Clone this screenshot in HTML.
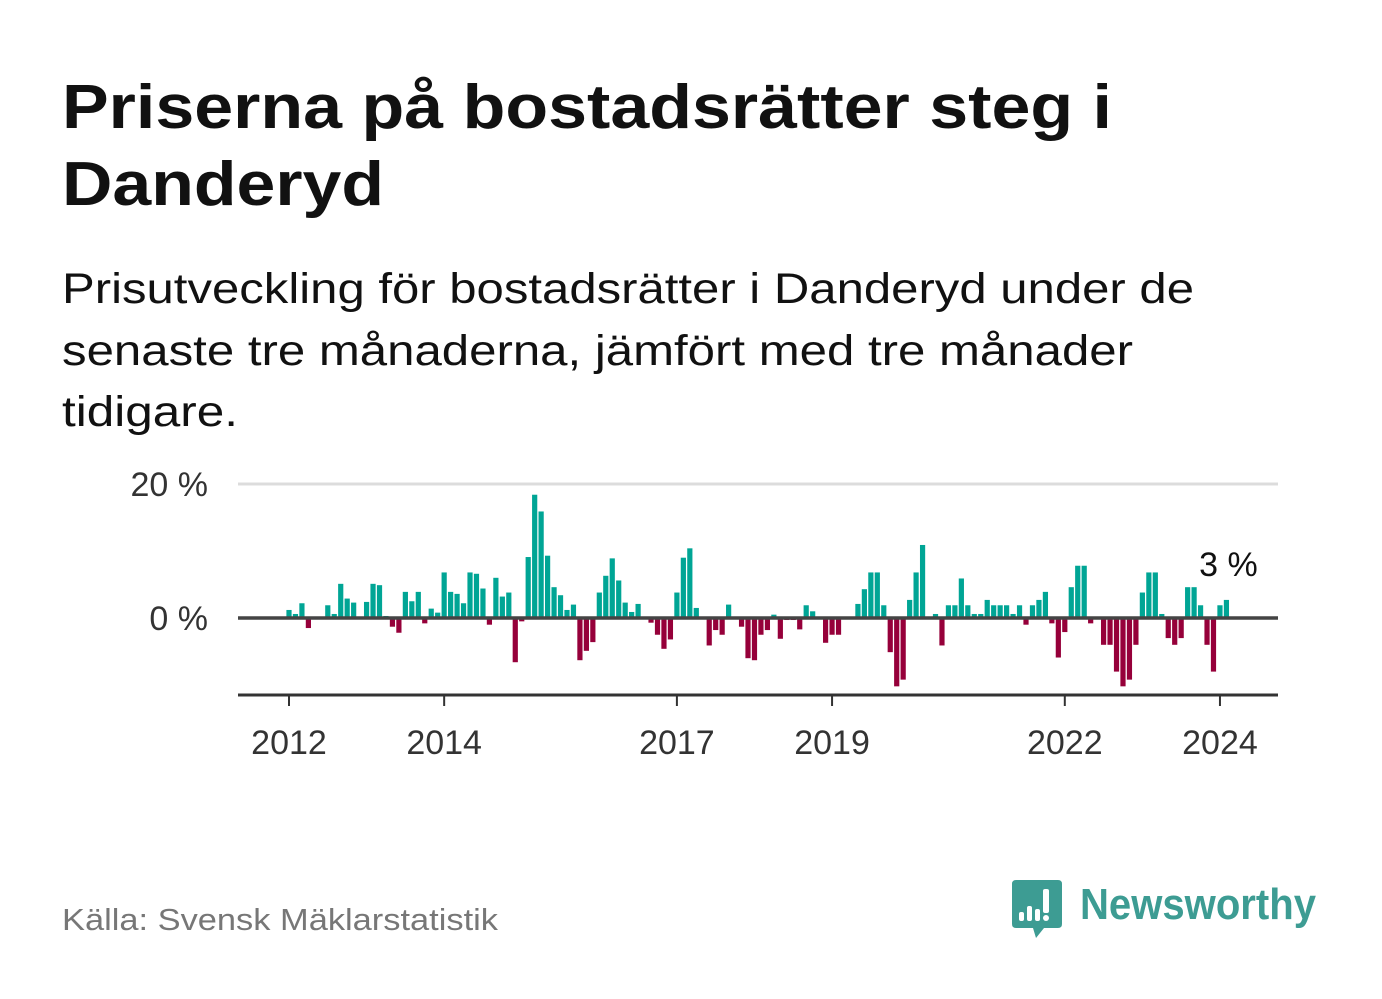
<!DOCTYPE html>
<html><head><meta charset="utf-8">
<style>
html,body{margin:0;padding:0;background:#fff;}
svg{display:block;font-family:"Liberation Sans","DejaVu Sans",sans-serif;}
</style></head>
<body>
<svg id="chart" width="1382" height="999" viewBox="0 0 1382 999" xmlns="http://www.w3.org/2000/svg">
  <rect width="1382" height="999" fill="#fff"/>
  <text x="62" y="128" font-size="62" font-weight="bold" fill="#111" textLength="1050" lengthAdjust="spacingAndGlyphs">Priserna på bostadsrätter steg i</text>
  <text x="62" y="205" font-size="62" font-weight="bold" fill="#111" textLength="322" lengthAdjust="spacingAndGlyphs">Danderyd</text>
  <text x="62" y="303" font-size="43" fill="#111" textLength="1132" lengthAdjust="spacingAndGlyphs">Prisutveckling för bostadsrätter i Danderyd under de</text>
  <text x="62" y="365" font-size="43" fill="#111" textLength="1071" lengthAdjust="spacingAndGlyphs">senaste tre månaderna, jämfört med tre månader</text>
  <text x="62" y="426" font-size="43" fill="#111" textLength="176" lengthAdjust="spacingAndGlyphs">tidigare.</text>
  <g id="plot"></g>
  <text x="62" y="930" font-size="31" fill="#777" textLength="436" lengthAdjust="spacingAndGlyphs">Källa: Svensk Mäklarstatistik</text>
  <g>
    <path d="M1016 880 H1058 Q1062 880 1062 884 V924 Q1062 928 1058 928 H1044 L1036 938 L1033 928 H1016 Q1012 928 1012 924 V884 Q1012 880 1016 880 Z" fill="#3d9c93"/>
    <rect x="1019" y="912" width="5" height="9" rx="2" fill="#fff"/>
    <rect x="1027" y="906" width="5" height="15" rx="2" fill="#fff"/>
    <rect x="1035" y="909" width="5" height="12" rx="2" fill="#fff"/>
    <rect x="1043" y="889" width="6" height="24" rx="2" fill="#fff"/>
    <circle cx="1046" cy="918" r="3" fill="#fff"/>
    <text x="1080" y="919" font-size="44" font-weight="bold" fill="#3d9c93" textLength="236" lengthAdjust="spacingAndGlyphs">Newsworthy</text>
  </g>
</svg>
<script>
const values = [
 1.2,0.6,2.2,-1.5,0,0,1.9,0.6,5.1,2.9,2.3,0,2.4,5.1,4.9,0.3,-1.3,-2.2,3.9,2.5,3.9,-0.8,1.4,0.8,6.8,3.9,3.6,2.2,6.8,6.6,4.4,-1.0,6.0,3.2,3.8,-6.6,
 -0.5,9.1,18.4,15.9,9.3,4.6,3.4,1.2,2.0,-6.3,-4.9,-3.6,3.8,6.3,8.9,5.6,2.3,0.9,2.1,0,-0.7,-2.5,-4.6,-3.2,3.8,9.0,10.4,1.5,0,-4.1,-1.8,-2.5,2.0,0,-1.3,-6.0,
 -6.3,-2.5,-1.8,0.5,-3.1,-0.3,-0.3,-1.7,1.9,1.0,-0.2,-3.7,-2.5,-2.5,0,-0.2,2.1,4.3,6.8,6.8,1.9,-5.1,-10.2,-9.2,2.7,6.8,10.9,0,0.6,-4.1,1.9,1.9,5.9,1.9,0.6,0.6,
 2.7,1.9,1.9,1.9,0.6,1.9,-1.0,1.9,2.7,3.9,-0.8,-5.9,-2.1,4.6,7.8,7.8,-0.8,0,-4.0,-4.0,-8.0,-10.2,-9.2,-4.0,3.8,6.8,6.8,0.6,-3.0,-4.0,-3.0,4.6,4.6,1.9,-4.0,-8.0,1.9,2.7
];
const yTicks = [0, 20];
const yTickLabels = ["0 %", "20 %"];
const xTickYears = [2012, 2014, 2017, 2019, 2022, 2024];
const lastLabel = "3 %";

const NS = "http://www.w3.org/2000/svg";
const g = document.getElementById('plot');
const x0 = 289, monthW = 6.465;
function xScale(i){ return x0 + i*monthW; }
function yearX(y){ return x0 + (y-2012)*12*monthW; }
function yScale(v){ return 618 - v*6.7; }
function mk(tag, attrs, parent){
  const e = document.createElementNS(NS, tag);
  for (const k in attrs) e.setAttribute(k, attrs[k]);
  (parent||g).appendChild(e); return e;
}
yTicks.forEach((t, k) => {
  if (t !== 0) {
    const l = mk('line', {x1:238, x2:1278, y1:yScale(t), y2:yScale(t), stroke:'#dcdcdc', 'stroke-width':3});
    
    
  }
  const tx = mk('text', {x:208, y:yScale(t)+12, 'font-size':34, fill:'#333', 'text-anchor':'end'});
  
  
  tx.textContent = yTickLabels[k];
});
values.forEach((v, i) => {
  const cx = xScale(i);
  const y = v >= 0 ? yScale(v) : yScale(0);
  const h = Math.abs(yScale(v) - yScale(0));
  const r = mk('rect', {x:(cx-2.6).toFixed(2), y:y.toFixed(2), width:5.2, height:h.toFixed(2), fill: v >= 0 ? '#00a595' : '#96003a'});
  
  
});
const z = mk('line', {x1:238, x2:1278, y1:yScale(0), y2:yScale(0), stroke:'#444', 'stroke-width':3.5});


const ax = mk('line', {x1:238, x2:1278, y1:695, y2:695, stroke:'#333', 'stroke-width':3});


xTickYears.forEach(yr => {
  const xx = yearX(yr);
  const t = mk('line', {x1:xx, x2:xx, y1:695, y2:706, stroke:'#333', 'stroke-width':2});
  
  
  const tx = mk('text', {x:xx, y:754, 'font-size':34, fill:'#333', 'text-anchor':'middle'});
  
  
  tx.textContent = yr;
});
const li = values.length - 1;
const lab = mk('text', {x:xScale(li)+2, y:yScale(Math.max(values[li],0))-24, 'font-size':34, fill:'#111', 'text-anchor':'middle'});


lab.textContent = lastLabel;
</script>
</body></html>
